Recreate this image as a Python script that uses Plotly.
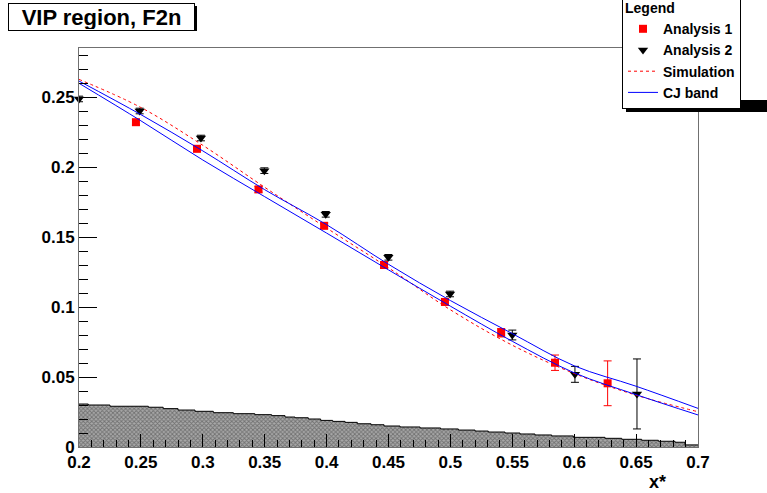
import plotly.graph_objects as go

# ---------------- data ----------------
a1_x = [0.246, 0.2953, 0.345, 0.398, 0.4464, 0.4956, 0.541, 0.5845, 0.627]
a1_y = [0.232, 0.213, 0.184, 0.158, 0.130, 0.1036, 0.0816, 0.0602, 0.0455]
a1_err = [0.002, 0.002, 0.002, 0.002, 0.002, 0.002, 0.003, 0.0055, 0.016]

a2_x = [0.2, 0.249, 0.2985, 0.3497, 0.3993, 0.4499, 0.4997, 0.55, 0.6006, 0.6507]
a2_y = [0.2486, 0.240, 0.2207, 0.1974, 0.1662, 0.1355, 0.1093, 0.080, 0.0519, 0.0379]
a2_err = [0.002, 0.002, 0.002, 0.002, 0.002, 0.002, 0.002, 0.0035, 0.0057, 0.025]

curve_x = [0.2, 0.25, 0.3, 0.35, 0.4, 0.45, 0.5, 0.55, 0.6, 0.65, 0.7]
sim_y = [0.2626, 0.2425, 0.2155, 0.1855, 0.1564, 0.128, 0.098, 0.0727, 0.0525, 0.037, 0.0252]
cj_hi = [0.2614, 0.2374, 0.2115, 0.1838, 0.1588, 0.1305, 0.1046, 0.081, 0.058, 0.0434, 0.0276]
cj_lo = [0.2598, 0.233, 0.205, 0.1788, 0.1528, 0.1265, 0.1006, 0.0755, 0.053, 0.0374, 0.0229]

# systematic band (step edges and heights)
sys_edges = [0.2, 0.2075, 0.225, 0.256, 0.268, 0.280, 0.2937, 0.3085, 0.3247, 0.342, 0.3556,
             0.3664, 0.3745, 0.3852, 0.3952, 0.4049, 0.4149, 0.4248, 0.4359, 0.4464, 0.4593,
             0.4755, 0.4921, 0.5064, 0.5199, 0.5306, 0.5441, 0.5562, 0.5683, 0.5818, 0.5993,
             0.6249, 0.6384, 0.6545, 0.668, 0.6814, 0.6895, 0.7]
sys_vals = [0.0307, 0.0300, 0.0291, 0.0284, 0.0274, 0.0264, 0.0255, 0.0245, 0.0238, 0.0231,
            0.0224, 0.0214, 0.0209, 0.0200, 0.0190, 0.0183, 0.0176, 0.0166, 0.0159, 0.0150,
            0.0143, 0.0136, 0.0129, 0.0121, 0.0114, 0.0107, 0.0100, 0.0093, 0.0086, 0.0079,
            0.0069, 0.0062, 0.0055, 0.0048, 0.0041, 0.0034, 0.0015]

x_ticks = [0.2, 0.25, 0.3, 0.35, 0.4, 0.45, 0.5, 0.55, 0.6, 0.65, 0.7]
y_ticks = [0, 0.05, 0.1, 0.15, 0.2, 0.25]

FONT = "Liberation Sans"

fig = go.Figure()

# systematic hatched band
fig.add_trace(go.Scatter(
    x=sys_edges, y=sys_vals + [sys_vals[-1]], mode="lines", line_shape="hv",
    line=dict(color="black", width=1), fill="tozeroy",
    fillpattern=dict(shape="x", size=3, solidity=0.5, fgcolor="#3a3a3a", bgcolor="#a8a8a8"),
    showlegend=False, hoverinfo="skip"))

fig.add_trace(go.Scatter(
    x=a1_x, y=a1_y, mode="markers", name="Analysis 1",
    marker=dict(symbol="square", size=8, color="#ff0000"),
    error_y=dict(type="data", array=a1_err, color="#ff0000", thickness=1, width=4)))

fig.add_trace(go.Scatter(
    x=a2_x, y=a2_y, mode="markers", name="Analysis 2",
    marker=dict(symbol="triangle-down", size=9, color="#000000"),
    error_y=dict(type="data", array=a2_err, color="#000000", thickness=1, width=4),
    cliponaxis=False))

fig.add_trace(go.Scatter(
    x=curve_x, y=sim_y, mode="lines", name="Simulation", line_shape="spline",
    line=dict(color="#ff0000", width=1, dash="3px,3px")))

fig.add_trace(go.Scatter(
    x=curve_x, y=cj_hi, mode="lines", name="CJ band", line_shape="spline",
    line=dict(color="#0000ff", width=1)))
fig.add_trace(go.Scatter(
    x=curve_x, y=cj_lo, mode="lines", name="CJ band lower", line_shape="spline",
    line=dict(color="#0000ff", width=1), showlegend=False))

L, R, T, B = 79, 69, 48, 46
W, H = 767, 493
pw, ph = W - L - R, H - T - B

def px_x(p):
    return (p - L) / pw

def px_y(p):
    return (H - B - p) / ph

axis_common = dict(ticks="inside", tickcolor="black", tickwidth=1, showgrid=False,
                   zeroline=False, showline=True, linecolor="#707070", linewidth=1,
                   mirror=True, layer="above traces", automargin=False,
                   tickfont=dict(family=FONT, size=17, weight="bold"))

fig.update_layout(
    width=W, height=H,
    margin=dict(l=L, r=R, t=T, b=B, pad=0, autoexpand=False),
    paper_bgcolor="white", plot_bgcolor="white",
    font=dict(family=FONT, size=15, color="black"),
    xaxis=dict(range=[0.2, 0.7], tickvals=x_ticks, ticktext=[f"{v:g}" for v in x_ticks],
               ticklen=13,
               minor=dict(dtick=0.01, tick0=0.2, ticks="inside", ticklen=7, tickcolor="black"),
               **axis_common),
    yaxis=dict(range=[0, 0.285], tickvals=y_ticks, ticktext=[f"{v:g}" for v in y_ticks],
               ticklen=18,
               minor=dict(dtick=0.01, tick0=0, ticks="inside", ticklen=9, tickcolor="black"),
               **axis_common),
    legend=dict(x=px_x(622), y=px_y(-6), xanchor="left", yanchor="top",
                bgcolor="white", bordercolor="black", borderwidth=1,
                font=dict(family=FONT, size=14, weight="bold"),
                title=dict(text="Legend", font=dict(family=FONT, size=14, weight="bold")),
                entrywidth=175, tracegroupgap=0),
    shapes=[
        # title box shadow
        dict(type="rect", xref="paper", yref="paper", x0=px_x(10), x1=px_x(197),
             y0=px_y(31), y1=px_y(6), fillcolor="black", line=dict(width=0), layer="above"),
        # legend shadow
        dict(type="rect", xref="paper", yref="paper", x0=px_x(626), x1=px_x(800),
             y0=px_y(112), y1=px_y(100), fillcolor="black", line=dict(width=0), layer="above"),
    ],
    annotations=[
        dict(text="<b>VIP region, F2n</b>", xref="paper", yref="paper",
             x=px_x(8), y=px_y(3), xanchor="left", yanchor="top", showarrow=False,
             font=dict(family=FONT, size=22), bgcolor="white", bordercolor="black",
             borderwidth=1, borderpad=1, width=183, height=24),
        dict(text="<b>x*</b>", xref="paper", yref="paper", x=px_x(668), y=px_y(482),
             xanchor="right", yanchor="middle", showarrow=False,
             font=dict(family=FONT, size=18)),
    ],
)

fig.write_html("out.html", config={"displayModeBar": False},
               post_script="document.body.style.margin='0';document.body.style.overflow='hidden';")
